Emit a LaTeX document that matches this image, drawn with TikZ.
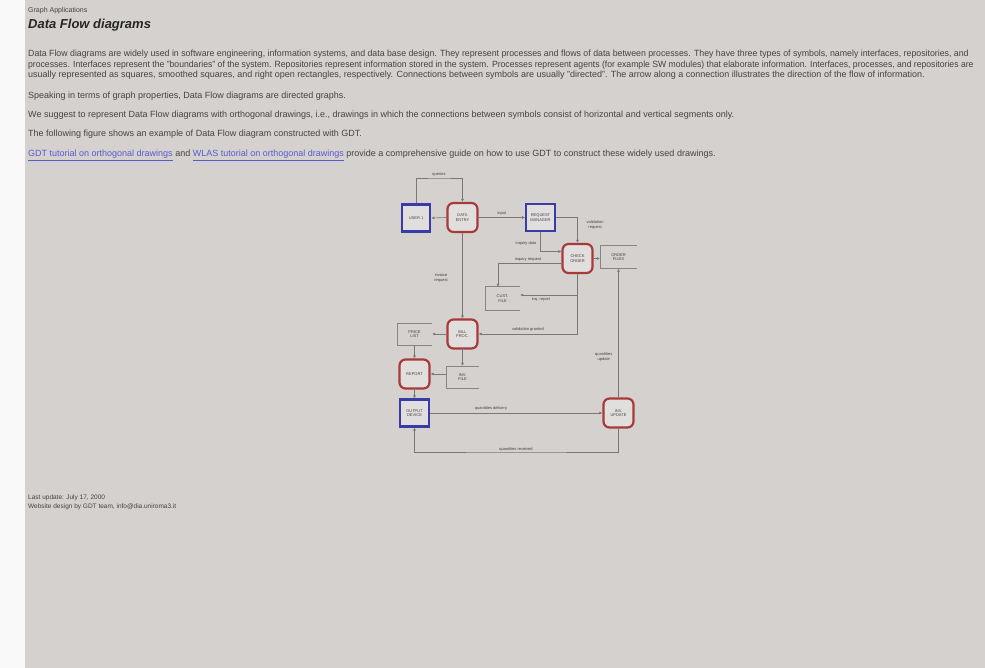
\documentclass[tikz,border=0pt]{standalone}
\usepackage{fontspec}
\setmainfont{Liberation Sans}
\usetikzlibrary{arrows.meta,calc}
\definecolor{pagebg}{HTML}{D4D1CE}
\definecolor{ifcblue}{HTML}{3A3AA8}
\definecolor{procred}{HTML}{A83A3A}
\definecolor{wirec}{HTML}{7A7876}
\definecolor{txt}{HTML}{444444}
\definecolor{linkc}{HTML}{5A5ACF}
\newcommand{\bodyfont}{\fontsize{9}{10}\selectfont}
\newcommand{\tinyfont}{\fontsize{4}{4.6}\selectfont}
\tikzset{iface/.style={draw=ifcblue,line width=2.2pt,fill=pagebg!70!white,minimum width=28.5pt,minimum height=27pt,align=center,inner sep=1pt,font=\tinyfont,text=txt},
  proc/.style={iface,draw=procred,rounded corners=6pt,minimum width=30pt,minimum height=29pt},
  repo/.style={minimum width=35pt,minimum height=22pt,align=center,inner sep=1pt,font=\tinyfont,text=txt},
  repoline/.style={draw=wirec!90,line width=0.6pt},
  flow/.style={draw=wirec,line width=0.6pt,-{Latex[length=3pt,width=3pt]}},
  lbl/.style={font=\tinyfont,text=txt,align=center,inner sep=0.5pt},
  textline/.style={anchor=base west,inner sep=0pt,text=txt,font=\bodyfont}}

\begin{document}
\begin{tikzpicture}[x=1pt,y=1pt]
\useasboundingbox (0,0) rectangle (985,-668);
\fill[pagebg] (0,0) rectangle (985,-668);
\fill[white!88!pagebg] (0,0) rectangle (25,-668);
% page text
\node[textline,font=\fontsize{7}{8}\selectfont] (head) at (28,-12.5) {Graph Applications};
\node[textline,font=\fontsize{13}{14}\selectfont\bfseries\itshape,text=black!85] (title) at (28,-28.5) {Data Flow diagrams};
\node[textline,xscale=0.975,transform shape] (pa) at (28,-57) {Data Flow diagrams are widely used in software engineering, information systems, and data base design. They represent processes and flows of data between processes. They have three types of symbols, namely interfaces, repositories, and};
\node[textline,xscale=0.96,transform shape] (pb) at (28,-67.5) {processes. Interfaces represent the "boundaries" of the system. Repositories represent information stored in the system. Processes represent agents (for example SW modules) that elaborate information. Interfaces, processes, and repositories are};
\node[textline] (pc) at (28,-78) {usually represented as squares, smoothed squares, and right open rectangles, respectively. Connections between symbols are usually "directed". The arrow along a connection illustrates the direction of the flow of information.};
\node[textline] (pd) at (28,-99) {Speaking in terms of graph properties, Data Flow diagrams are directed graphs.};
\node[textline] (pe) at (28,-118) {We suggest to represent Data Flow diagrams with orthogonal drawings, i.e., drawings in which the connections between symbols consist of horizontal and vertical segments only.};
\node[textline] (pf) at (28,-137) {The following figure shows an example of Data Flow diagram constructed with GDT.};
\node[textline] (pg) at (28,-157) {{\color{linkc}\underline{GDT tutorial on orthogonal drawings}} and {\color{linkc}\underline{WLAS tutorial on orthogonal drawings}} provide a comprehensive guide on how to use GDT to construct these widely used drawings.};
\node[textline,font=\fontsize{6.5}{7}\selectfont] (upd) at (28,-499) {Last update: July 17, 2000};
\node[textline,font=\fontsize{6.5}{7}\selectfont] (web) at (28,-508) {Website design by GDT team, info@dia.uniroma3.it};
% symbols
\node[iface] (user) at (416,-218) {USER 1};
\node[proc] (entry) at (462.5,-217.5) {DATA\\ENTRY};
\node[iface] (reqmgr) at (540.5,-217.5) {REQUEST\\MANAGER};
\node[proc] (check) at (577.5,-258.5) {CHECK\\ORDER};
\node[repo,minimum width=37pt,minimum height=23pt] (orders) at (618.5,-257) {ORDER\\FILES};
\node[repo,minimum height=23pt] (custfile) at (502.5,-298.5) {CUST.\\FILE};
\node[proc] (billing) at (462.5,-334) {BILL\\PROC.};
\node[repo] (prices) at (414.5,-334) {PRICE\\LIST};
\node[proc] (report) at (414.5,-374) {REPORT};
\node[repo,minimum width=33pt] (invfile) at (462.5,-377) {INV.\\FILE};
\node[iface] (output) at (414.5,-413) {OUTPUT\\DEVICE};
\node[proc] (update) at (618.5,-413) {INV.\\UPDATE};
\foreach \r in {orders,custfile,prices,invfile}
  \draw[repoline] (\r.north east) -- (\r.north west) -- (\r.south west) -- (\r.south east);
% flows
\coordinate (qtop) at (439,-178);
\coordinate (rcvd) at (516,-452);
\draw[flow] (user.north) |- (qtop) -| (entry.north);
\node[lbl,above=1pt] at (qtop) {queries};
\draw[flow] (entry.west) -- (user.east);
\draw[flow] (entry.east) -- node[lbl,above=1pt] {input} (reqmgr.west);
\draw[flow] (reqmgr.east) -| (check.north);
\node[lbl,anchor=west] at (586,-225) {validation\\request};
\draw[flow] (reqmgr.south) |- ([yshift=7pt]check.west);
\node[lbl] at (526,-243) {inquiry data};
\draw[flow] ([yshift=-5pt]check.west) -| ([xshift=-4.5pt]custfile.north);
\node[lbl,anchor=south] at (528,-262) {inquiry request};
\draw[flow] (check.south) |- ([yshift=3.5pt]custfile.east);
\node[lbl,anchor=north] at (541,-297) {inq. report};
\draw[flow] (check.south) |- (billing.east);
\node[lbl,anchor=south] at (528,-332) {validation granted};
\draw[flow] (check.east) -- (check.east -| orders.west);
\draw[flow] (entry.south) -- (billing.north);
\node[lbl] at (441,-278) {invoice\\request};
\draw[flow] (billing.west) -- (prices.east);
\draw[flow] (prices.south) -- (report.north);
\draw[flow] (billing.south) -- (invfile.north);
\draw[flow] (invfile.west |- report.east) -- (report.east);
\draw[flow] (report.south) -- (output.north);
\draw[flow] (output.east) -- (update.west);
\node[lbl,anchor=south] at (491,-411) {quantities delivery};
\draw[flow] (update.north) -- (orders.south);
\node[lbl,anchor=east] at (613,-357) {quantities\\update};
\draw[flow] (update.south) |- (rcvd) -| (output.south);
\node[lbl,anchor=south] at (rcvd) {quantities received};
\end{tikzpicture}
\end{document}
